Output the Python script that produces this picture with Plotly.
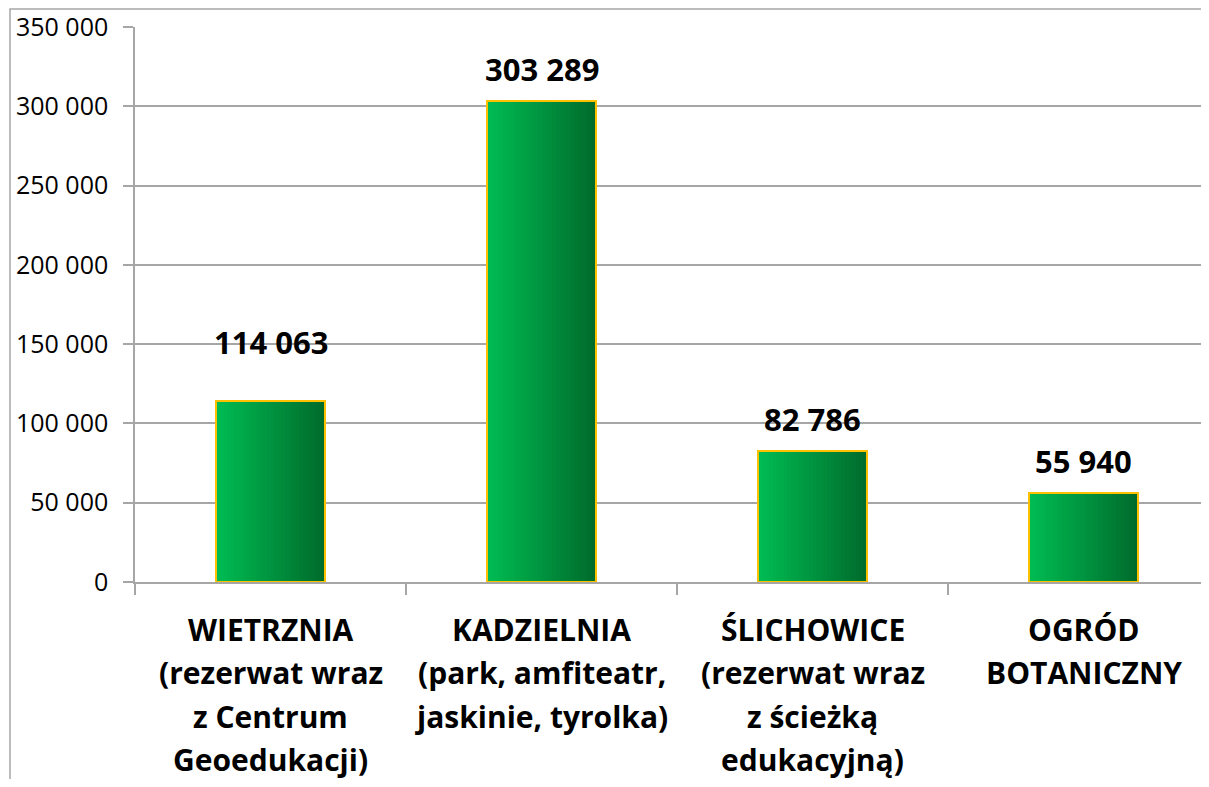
import plotly.graph_objects as go

category_lines = [
    ["WIETRZNIA", "(rezerwat wraz", "z Centrum", "Geoedukacji)"],
    ["KADZIELNIA", "(park, amfiteatr,", "jaskinie, tyrolka)"],
    ["ŚLICHOWICE", "(rezerwat wraz", "z ścieżką", "edukacyjną)"],
    ["OGRÓD", "BOTANICZNY"],
]
categories = ["<br>".join(lines) for lines in category_lines]
values = [114063, 303289, 82786, 55940]
value_labels = ["114 063", "303 289", "82 786", "55 940"]
y_tickvals = [0, 50000, 100000, 150000, 200000, 250000, 300000, 350000]
y_ticktext = ["0", "50 000", "100 000", "150 000", "200 000", "250 000", "300 000", "350 000"]

# styling
FONT = "Open Sans"
BAR_W = 0.40
N_STRIPS = 30
c_left = (0, 187, 82)
c_right = (0, 108, 44)
label_shift = [37, 10, 10, 10]

# page has an 8px body margin; figure sized to fit the window without scrolling
W, H = 1193, 771
L, T, B, R = 127, 19, 197, 0
plot_w = W - L - R
cat_px = 271.0

fig = go.Figure()
step = BAR_W / N_STRIPS
for i in range(N_STRIPS):
    t = i / (N_STRIPS - 1)
    col = tuple(round(a + (b - a) * t) for a, b in zip(c_left, c_right))
    fig.add_trace(go.Bar(
        x=categories, y=values,
        width=step * 1.15 if i < N_STRIPS - 1 else step,
        offset=-BAR_W / 2 + i * step,
        marker=dict(color="rgb(%d,%d,%d)" % col, line=dict(width=0)),
        hoverinfo="skip", showlegend=False,
    ))
fig.add_trace(go.Bar(
    x=categories, y=values, width=BAR_W, offset=-BAR_W / 2,
    marker=dict(color="rgba(0,0,0,0)", line=dict(color="#FFC000", width=2)),
    showlegend=False,
))

for c, v, lab, sh in zip(categories, values, value_labels, label_shift):
    fig.add_annotation(x=c, y=v, text="<b>%s</b>" % lab, showarrow=False,
                       yanchor="bottom", yshift=sh, borderpad=0,
                       font=dict(family=FONT, size=31, color="#000000"))

# category labels, one line per annotation for Excel-like line spacing
for c, lines in zip(categories, category_lines):
    for j, line in enumerate(lines):
        fig.add_annotation(x=c, y=0, yref="paper", text="<b>%s</b>" % line,
                           showarrow=False, yanchor="middle",
                           yshift=-(47 + 43.5 * j), borderpad=0,
                           font=dict(family=FONT, size=30, color="#000000"))

# chart area border
fig.add_shape(type="rect", xref="paper", yref="paper",
              x0=(2 - L) / plot_w, x1=1.05, y0=-1, y1=1 + 18 / 555,
              line=dict(color="#A6A6A6", width=1.5), fillcolor="rgba(0,0,0,0)", layer="below")

fig.update_layout(
    width=W, height=H,
    margin=dict(l=L, r=R, t=T, b=B, pad=0),
    paper_bgcolor="white", plot_bgcolor="white",
    barmode="overlay", bargap=0,
    font=dict(family=FONT, color="#000000"),
    showlegend=False,
)
fig.update_xaxes(
    type="category", range=[-0.5, -0.5 + plot_w / cat_px],
    tickson="boundaries", ticks="outside", ticklen=11,
    tickcolor="#A6A6A6", tickwidth=1.5,
    showline=True, linecolor="#A6A6A6", linewidth=1.5,
    showgrid=False, showticklabels=False,
)
fig.update_yaxes(
    range=[0, 350000], tickvals=y_tickvals, ticktext=y_ticktext,
    ticks="outside", ticklen=10, tickcolor="#A6A6A6", tickwidth=1.5,
    showline=True, linecolor="#A6A6A6", linewidth=1.5,
    showgrid=True, gridcolor="#A6A6A6", gridwidth=1.5,
    zeroline=False,
    tickfont=dict(family=FONT, size=25, color="#000000"),
    ticklabelstandoff=10,
)

fig.write_html("out.html")
